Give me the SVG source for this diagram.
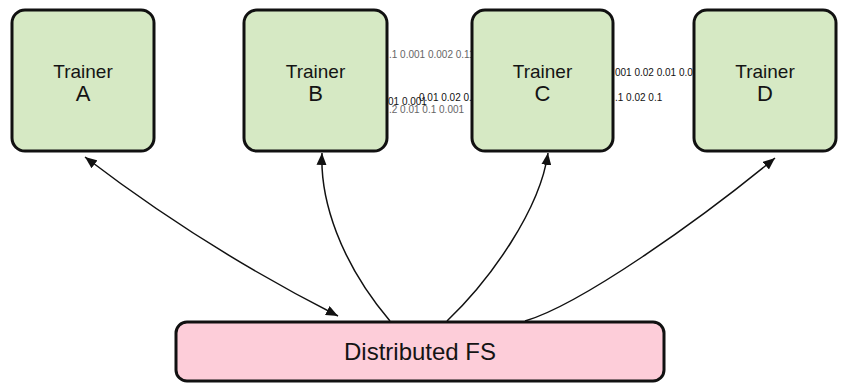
<svg xmlns="http://www.w3.org/2000/svg" width="846" height="383" viewBox="0 0 846 383">
  <style>
    .trainer rect { fill: #d6e9c4; stroke: #111; stroke-width: 3; }
    .fs rect { fill: #fdcdd9; stroke: #111; stroke-width: 3; }
    .label { font-family: "Liberation Sans", Arial, sans-serif; fill: #141414; text-anchor: middle; }
    .t1 { font-size: 19px; }
    .t2 { font-size: 22px; }
    .fsl { font-size: 24px; }
    .num { font-family: "Liberation Sans", Arial, sans-serif; font-size: 10px; }
    .dim { fill: #666; }
    .dark { fill: #111; }
    .link { fill: none; stroke: #111; stroke-width: 1.5; }
  </style>
  <defs>
    <marker id="head" viewBox="0 0 12 10" refX="12" refY="5" markerWidth="12" markerHeight="10" markerUnits="userSpaceOnUse" orient="auto-start-reverse">
      <path d="M0,0 L12,5 L0,10 z" fill="#111"/>
    </marker>
  </defs>
  <rect width="846" height="383" fill="#fff"/>

  <!-- parameter streams between trainers (drawn first so the boxes cover their ends) -->
  <g id="streams">
    <text class="num dim" x="389" y="58">.1 0.001 0.002 0.11</text>
    <text class="num dark" x="388" y="105">01 0.001</text>
    <text class="num dark" x="419" y="101">0.01 0.02 0.</text>
    <text class="num dim" x="389" y="113">.2 0.01 0.1 0.001</text>
    <text class="num dark" x="615" y="76">001 0.02 0.01 0.0</text>
    <text class="num dark" x="615" y="101">.1 0.02 0.1</text>
  </g>

  <g id="trainer-a" class="trainer">
    <rect x="12" y="10" width="142" height="141" rx="13"/>
    <text class="label t1" x="83" y="78">Trainer</text>
    <text class="label t2" x="83" y="101">A</text>
  </g>
  <g id="trainer-b" class="trainer">
    <rect x="244" y="10" width="143" height="141" rx="13"/>
    <text class="label t1" x="315.5" y="78">Trainer</text>
    <text class="label t2" x="315.5" y="101">B</text>
  </g>
  <g id="trainer-c" class="trainer">
    <rect x="472" y="10" width="141" height="141" rx="13"/>
    <text class="label t1" x="542.5" y="78">Trainer</text>
    <text class="label t2" x="542.5" y="101">C</text>
  </g>
  <g id="trainer-d" class="trainer">
    <rect x="694" y="10" width="142" height="141" rx="13"/>
    <text class="label t1" x="765" y="78">Trainer</text>
    <text class="label t2" x="765" y="101">D</text>
  </g>

  <g id="distributed-fs" class="fs">
    <rect x="176" y="322" width="488" height="59" rx="11"/>
    <text class="label fsl" x="420" y="360">Distributed FS</text>
  </g>

  <g id="connectors">
    <path class="link" d="M85,157 Q204,248 338,316" marker-start="url(#head)" marker-end="url(#head)"/>
    <path class="link" d="M390,321 C340,262 320,200 322,153" marker-end="url(#head)"/>
    <path class="link" d="M447,321 C490,280 540,210 548,153" marker-end="url(#head)"/>
    <path class="link" d="M525,321 C580,305 700,220 775,158" marker-end="url(#head)"/>
  </g>
</svg>
